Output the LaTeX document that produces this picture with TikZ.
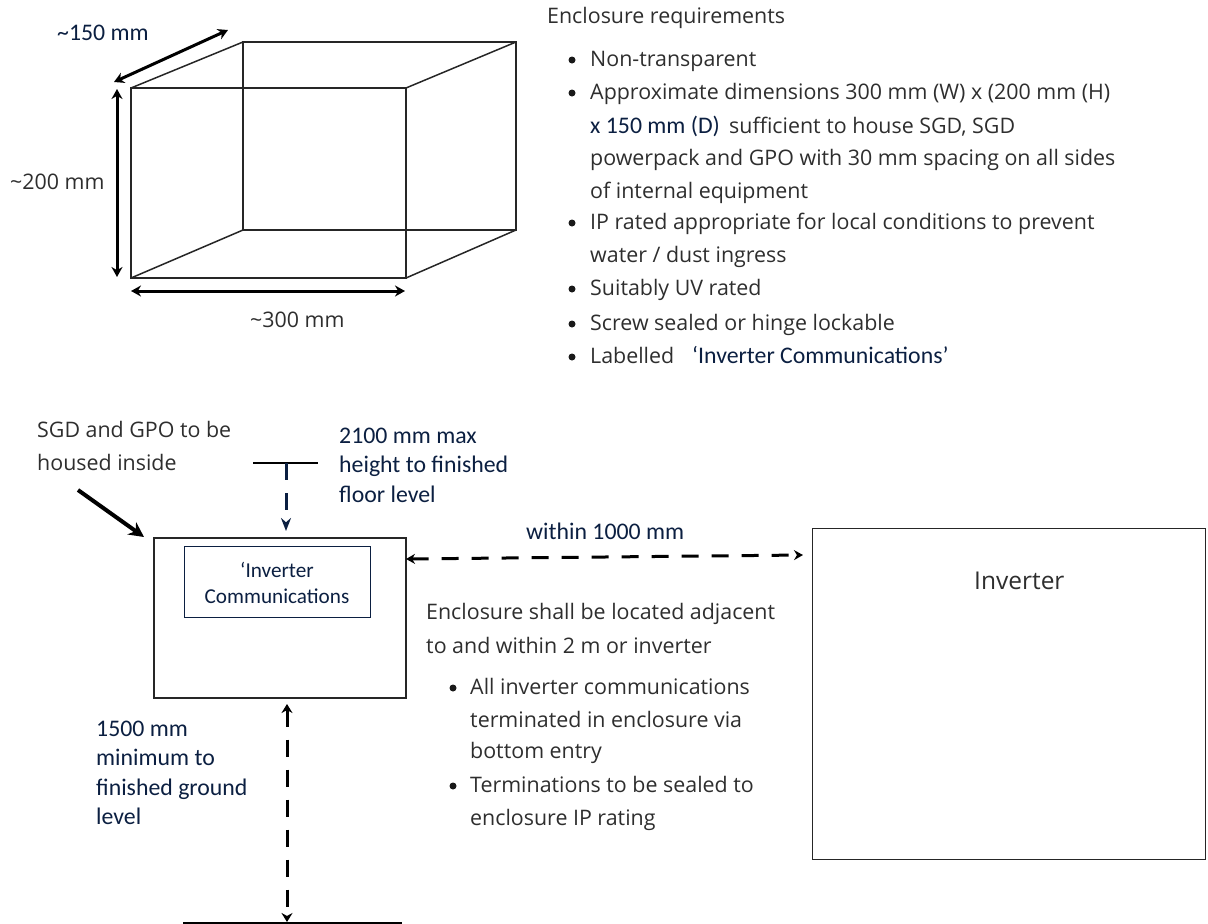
\documentclass[tikz,border=0pt]{standalone}
\usepackage{fontspec}
\setmainfont{Carlito}
\newfontfamily\graytext{Open Sans}
\usetikzlibrary{arrows.meta}
\definecolor{navy}{HTML}{0B1F41}
\definecolor{ink}{HTML}{2E2E2E}
\newcommand{\navysize}{\fontsize{23.8}{26}\selectfont}
\newcommand{\graysize}{\graytext\fontsize{21.4}{24}\selectfont}
\tikzset{
  x=1pt,y=-1pt,
  nv/.style={inner sep=0pt,anchor=base west,text=navy,font=\navysize},
  gr/.style={inner sep=0pt,anchor=base west,text=ink,font=\graysize},
  dot/.style={circle,fill=black!90,inner sep=0pt,minimum size=7pt},
  edge/.style={draw=black!85,line width=1.5pt},
  dim/.style={black,line width=3pt,{Stealth[length=10pt,width=11pt]}-{Stealth[length=10pt,width=11pt]}},
  dashdim/.style={black,line width=3pt,dash pattern=on 17pt off 13pt}
}
\begin{document}
\begin{tikzpicture}
\useasboundingbox (0,0) rectangle (1208,924);
% cube
\coordinate (fa) at (131,88); \coordinate (fb) at (406,88); \coordinate (fc) at (406,278); \coordinate (fd) at (131,278);
\coordinate (ba) at (243,42); \coordinate (bb) at (516,42); \coordinate (bc) at (516,230); \coordinate (bd) at (243,230);
\draw[edge] (fa) -- (fb) -- (fc) -- (fd) -- cycle;
\draw[edge] (ba) -- (bb) -- (bc) -- (bd) -- cycle;
\draw[edge] (fa) -- (ba) (fb) -- (bb) (fc) -- (bc) (fd) -- (bd);
\coordinate (d1a) at (114,82); \coordinate (d1b) at (228,30);
\coordinate (d2a) at (117,89); \coordinate (d2b) at (117,277);
\coordinate (d3a) at (131,291); \coordinate (d3b) at (405,291);
\draw[dim] (d1a) -- (d1b);
\draw[dim] (d2a) -- (d2b);
\draw[dim] (d3a) -- (d3b);
\node[nv] (l150) at (57,40) {\char`\~150 mm};
\node[gr] (l200) at (10,189) {\char`\~200 mm};
\node[gr] (l300) at (250,327) {\char`\~300 mm};
% requirements
\node[gr] (req) at (547,23) {Enclosure requirements};
\node[dot] (b1) at (572,60) {}; \node[gr] (r1) at (590,66) {Non-transparent};
\node[dot] (b2) at (572,93) {}; \node[gr] (r2a) at (590,99) {Approximate dimensions 300 mm (W) x (200 mm (H)};
\node[nv] (r2b) at (590,133) {x 150 mm (D)};
\node[gr] (r2bb) at (729,133) {sufficient to house SGD, SGD};
\node[gr] (r2c) at (590,165) {powerpack and GPO with 30 mm spacing on all sides};
\node[gr] (r2d) at (590,198) {of internal equipment};
\node[dot] (b3) at (572,223) {}; \node[gr] (r3a) at (590,229) {IP rated appropriate for local conditions to prevent};
\node[gr] (r3b) at (590,262) {water / dust ingress};
\node[dot] (b4) at (572,289) {}; \node[gr] (r4) at (590,295) {Suitably UV rated};
\node[dot] (b5) at (572,324) {}; \node[gr] (r5) at (590,330) {Screw sealed or hinge lockable};
\node[dot] (b6) at (572,357) {}; \node[gr] (r6) at (590,363) {Labelled};
\node[nv] (r6b) at (692,363) {‘Inverter Communications’};
% lower diagram
\node[draw=black!85,line width=1.5pt,minimum width=252pt,minimum height=160pt,anchor=north west,inner sep=0pt] (encl) at (153,537) {};
\node[draw=navy,line width=1pt,minimum width=186pt,minimum height=71pt,anchor=north west,inner sep=0pt] (tag) at (184,546) {};
\node[inner sep=0pt,anchor=base,text=navy,font=\fontsize{21.2}{24}\selectfont] (tag1) at (277,577) {‘Inverter};
\node[inner sep=0pt,anchor=base,text=navy,font=\fontsize{21.2}{24}\selectfont] (tag2) at (277,603) {Communications};
\node[draw=black!85,line width=1.2pt,minimum width=393pt,minimum height=331pt,anchor=north west,inner sep=0pt] (inv) at (812,528) {};
\node[gr,font=\graytext\fontsize{24.5}{27}\selectfont] (invl) at (974,589) {Inverter};
\node[gr] (sgd1) at (37,437) {SGD and GPO to be};
\node[gr] (sgd2) at (37,470) {housed inside};
\coordinate (sgdtail) at (78,490);
\coordinate (sgdtip) at (144,537);
\draw[black,line width=4pt,-{Stealth[length=15pt,width=15pt]}] (sgdtail) -- (sgdtip);
\node[nv] (h1) at (339,443) {2100 mm max};
\node[nv] (h2) at (339,472) {height to finished};
\node[nv] (h3) at (339,502) {floor level};
\coordinate (tl) at (253,463); \coordinate (tr) at (318,463); \coordinate (tm) at (286,463);
\coordinate (tb) at (286,531);
\draw[black,line width=1.2pt] (tl) -- (tr);
\draw[navy,line width=3pt,dash pattern=on 17pt off 13pt,-{Stealth[length=13pt,width=10pt]}] (tm) -- (tb);
\node[nv] (w1) at (526,539) {within 1000 mm};
\coordinate (wl) at (406,559); \coordinate (wr) at (803,555);
\draw[dashdim,{Stealth[length=9pt,width=10pt]}-{Stealth[length=9pt,width=10pt]}] (wl) -- (wr);
\node[gr] (e1) at (426,619) {Enclosure shall be located adjacent};
\node[gr] (e2) at (426,653) {to and within 2 m or inverter};
\node[dot] (eb1) at (453,688) {}; \node[gr] (e3) at (470,694) {All inverter communications};
\node[gr] (e4) at (470,727) {terminated in enclosure via};
\node[gr] (e5) at (470,758) {bottom entry};
\node[dot] (eb2) at (453,786) {}; \node[gr] (e6) at (470,792) {Terminations to be sealed to};
\node[gr] (e7) at (470,825) {enclosure IP rating};
\node[nv] (m1) at (96,736) {1500 mm};
\node[nv] (m2) at (96,765) {minimum to};
\node[nv] (m3) at (96,795) {finished ground};
\node[nv] (m4) at (96,824) {level};
\coordinate (gl) at (183,923); \coordinate (gr1) at (402,923);
\draw[black,line width=2pt] (gl) -- (gr1);
\coordinate (ga) at (287,704); \coordinate (gb) at (287,922);
\draw[dashdim,{Stealth[length=9pt,width=11pt]}-{Stealth[length=9pt,width=11pt]}] (ga) -- (gb);
\end{tikzpicture}
\end{document}
